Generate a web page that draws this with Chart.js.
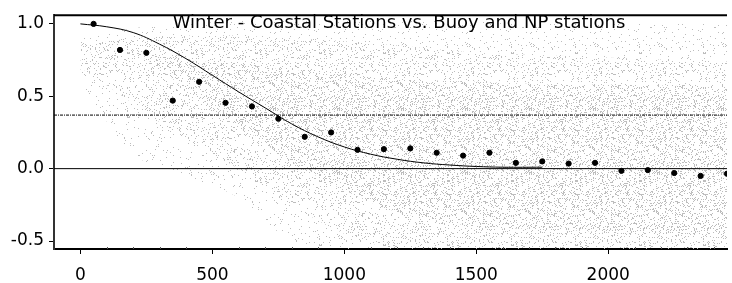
<!DOCTYPE html>
<html>
<head>
<meta charset="utf-8">
<title>Winter correlation</title>
<script src="https://cdn.jsdelivr.net/npm/chart.js@4.4.1/dist/chart.umd.min.js"></script>
<style>
  html, body { margin: 0; padding: 0; background: #fff; }
  canvas { display: block; }
</style>
</head>
<body>
<canvas id="corrChart" width="732" height="283"></canvas>
<script>
// ================= Data =================
// bin-averaged correlation (black dots)
const binX = [50, 150, 250, 350, 450, 550, 650, 750, 850, 950, 1050, 1150, 1250,
  1350, 1450, 1550, 1650, 1750, 1850, 1950, 2050, 2150, 2250, 2350, 2450];
const binMean = [1.0, 0.82, 0.80, 0.47, 0.60, 0.455, 0.43, 0.345, 0.22, 0.25, 0.13, 0.135, 0.14,
  0.11, 0.09, 0.11, 0.04, 0.05, 0.035, 0.04, -0.015, -0.01, -0.03, -0.05, -0.035];

// fitted curve (thin black line)
const curveX = [0, 100, 200, 300, 400, 500, 600, 700, 800, 900, 1000, 1100, 1200, 1300, 1400, 1500, 1600, 1750];
const curveY = [1.0, 0.98, 0.94, 0.86, 0.76, 0.645, 0.53, 0.42, 0.31, 0.22, 0.15, 0.10, 0.065, 0.04, 0.025, 0.015, 0.01, 0.01];

// reference levels
const efoldLevel = 0.37;
const zeroLevel = 0;

// gray cloud of station pairs, read as envelopes
const cloudX = [0, 200, 400, 600, 800, 1000, 1200, 1500, 1800, 2100, 2450];
const sparseTop = [0.9, 0.97, 1.0, 1.02, 1.02, 1.02, 1.02, 1.02, 1.0, 1.0, 1.0];
const sparseBot = [0.6, 0.1, -0.05, -0.2, -0.5, -0.555, -0.555, -0.555, -0.555, -0.555, -0.555];
const mediumTop = [0.85, 0.9, 0.92, 0.92, 0.9, 0.88, 0.85, 0.8, 0.78, 0.76, 0.74];
const mediumBot = [0.7, 0.45, 0.2, 0.0, -0.25, -0.45, -0.555, -0.555, -0.555, -0.555, -0.555];
const denseTop = [0.8, 0.8, 0.75, 0.72, 0.68, 0.65, 0.62, 0.6, 0.58, 0.58, 0.56];
const denseBot = [0.8, 0.8, 0.55, 0.3, 0.05, -0.15, -0.3, -0.4, -0.42, -0.45, -0.45];

// axes
const xTicks = [0, 500, 1000, 1500, 2000];
const xMinorStep = 100;
const yTicks = [-0.5, 0.0, 0.5, 1.0];
const xRange = [-100, 2450];
const yRange = [-0.555, 1.06];

const titleText = 'Winter - Coastal Stations vs. Buoy and NP stations';
const fontFamily = '"DejaVu Sans", Arial, Helvetica, sans-serif';

// ================= helpers =================
function toPoints(xs, ys) {
  return xs.map((x, i) => ({ x: x, y: ys[i] }));
}

// stipple texture for the gray cloud (styling only)
function stipple(density, seed) {
  const size = 64;
  const c = document.createElement('canvas');
  c.width = size; c.height = size;
  const g = c.getContext('2d');
  g.fillStyle = '#bdbdbd';
  for (let py = 0; py < size; py++) {
    for (let px = 0; px < size; px++) {
      let h = Math.imul(px + seed * 131, 374761393) + Math.imul(py + seed * 71, 668265263);
      h = Math.imul(h ^ (h >>> 13), 1274126177);
      const r = ((h ^ (h >>> 16)) >>> 0) / 4294967296;
      if (r < density) g.fillRect(px, py, 1, 1);
    }
  }
  return g.createPattern(c, 'repeat');
}

function band(xs, ys, fillStyle, fillTo) {
  return {
    type: 'line',
    data: toPoints(xs, ys),
    showLine: true,
    borderWidth: 0,
    borderColor: 'rgba(0,0,0,0)',
    pointRadius: 0,
    tension: 0.3,
    backgroundColor: fillStyle,
    fill: fillTo,
    order: 10
  };
}

// ================= plugins =================
const frameAndTitle = {
  id: 'frameAndTitle',
  afterDatasetsDraw(chart) {
    const { ctx, chartArea: a, scales } = chart;
    ctx.save();
    // top border
    ctx.strokeStyle = '#000';
    ctx.lineWidth = 2;
    ctx.beginPath();
    ctx.moveTo(a.left, a.top);
    ctx.lineTo(a.right, a.top);
    ctx.stroke();
    // minor ticks on the x axis
    ctx.lineWidth = 1;
    ctx.strokeStyle = '#555';
    for (let v = 0; v <= xRange[1]; v += xMinorStep) {
      if (v % 500 === 0) continue;
      const px = Math.round(scales.x.getPixelForValue(v)) + 0.5;
      ctx.beginPath();
      ctx.moveTo(px, a.bottom - 2);
      ctx.lineTo(px, a.bottom);
      ctx.stroke();
    }
    // title inside the plot
    ctx.fillStyle = '#000';
    ctx.font = '18px ' + fontFamily;
    ctx.textAlign = 'center';
    ctx.textBaseline = 'alphabetic';
    ctx.fillText(titleText, 399, 28);
    ctx.restore();
  }
};

// ================= chart =================
const sparseFill = stipple(0.035, 1);
const mediumFill = stipple(0.07, 2);
const denseFill = stipple(0.09, 3);

const corrChart = new Chart(document.getElementById('corrChart'), {
  type: 'scatter',
  data: {
    datasets: [
      band(cloudX, sparseTop, sparseFill, '+1'),
      band(cloudX, sparseBot, 'rgba(0,0,0,0)', false),
      band(cloudX, mediumTop, mediumFill, '+1'),
      band(cloudX, mediumBot, 'rgba(0,0,0,0)', false),
      band(cloudX, denseTop, denseFill, '+1'),
      band(cloudX, denseBot, 'rgba(0,0,0,0)', false),
      {
        type: 'line',
        data: toPoints(xRange, [zeroLevel, zeroLevel]),
        borderColor: '#000',
        borderWidth: 1,
        pointRadius: 0,
        fill: false,
        order: 5
      },
      {
        type: 'line',
        data: toPoints(xRange, [efoldLevel, efoldLevel]),
        borderColor: '#000',
        borderWidth: 1,
        borderDash: [3, 1, 1, 1],
        pointRadius: 0,
        fill: false,
        order: 5
      },
      {
        type: 'line',
        data: toPoints(curveX, curveY),
        borderColor: '#000',
        borderWidth: 1,
        pointRadius: 0,
        tension: 0.4,
        fill: false,
        order: 4
      },
      {
        data: toPoints(binX, binMean),
        backgroundColor: '#000',
        borderColor: '#000',
        pointRadius: 2.6,
        pointStyle: 'circle',
        order: 1
      }
    ]
  },
  options: {
    responsive: false,
    animation: false,
    layout: { padding: { top: 11, right: 0, left: 0, bottom: 0 } },
    plugins: {
      legend: { display: false },
      tooltip: { enabled: false },
      title: { display: false }
    },
    scales: {
      x: {
        type: 'linear',
        min: xRange[0],
        max: xRange[1],
        afterBuildTicks: s => { s.ticks = xTicks.map(v => ({ value: v })); },
        afterFit: s => { s.height = 34; },
        border: { display: true, color: '#000', width: 2 },
        grid: { drawOnChartArea: false, drawTicks: true, tickLength: 5, color: '#000' },
        ticks: {
          color: '#000',
          padding: 11,
          maxRotation: 0,
          font: { family: fontFamily, size: 17 },
          callback: v => String(v)
        }
      },
      y: {
        type: 'linear',
        min: yRange[0],
        max: yRange[1],
        afterBuildTicks: s => { s.ticks = yTicks.map(v => ({ value: v })); },
        afterFit: s => { s.width = 54; },
        border: { display: true, color: '#333', width: 2 },
        grid: { drawOnChartArea: false, drawTicks: true, tickLength: 5, color: '#000' },
        ticks: {
          color: '#000',
          padding: 5,
          font: { family: fontFamily, size: 17 },
          callback: v => v.toFixed(1)
        }
      }
    }
  },
  plugins: [frameAndTitle]
});
</script>
</body>
</html>
